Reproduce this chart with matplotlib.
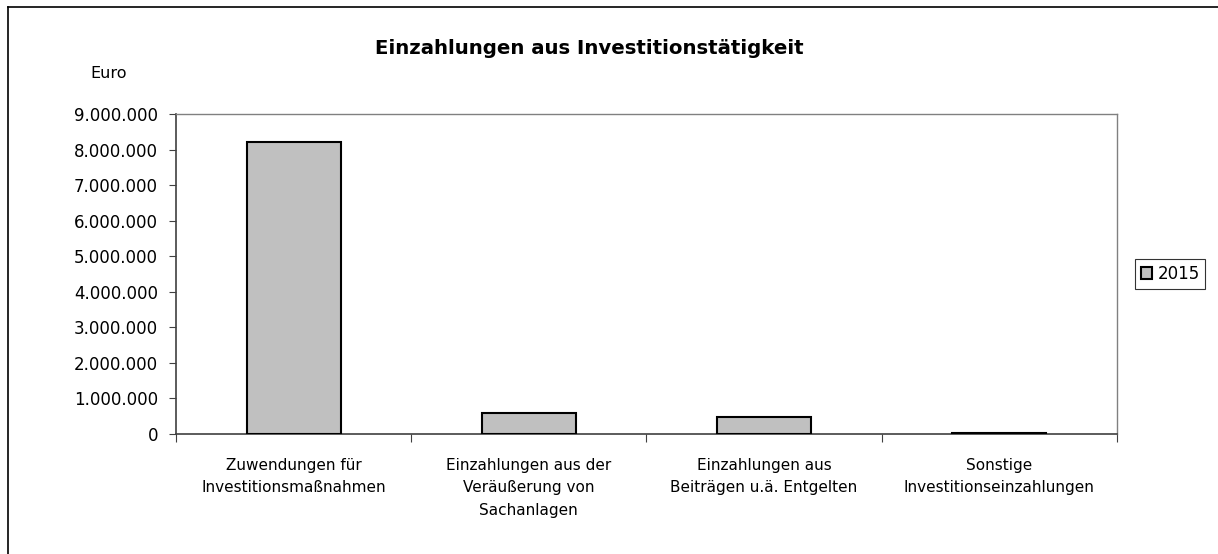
import matplotlib
matplotlib.use("Agg")
import matplotlib.pyplot as plt
from matplotlib.ticker import FuncFormatter, FixedLocator
from matplotlib.lines import Line2D

plt.rcParams['font.family'] = ['DejaVu Sans']

categories = ['Zuwendungen für\nInvestitionsmaßnahmen',
              'Einzahlungen aus der\nVeräußerung von\nSachanlagen',
              'Einzahlungen aus\nBeiträgen u.ä. Entgelten',
              'Sonstige\nInvestitionseinzahlungen']
values_2015 = [8200000, 580000, 480000, 30000]
series_label = '2015'

fig = plt.figure(figsize=(12.18, 5.54), dpi=100)
ax = fig.add_axes([0.1445, 0.2166, 0.917 - 0.1445, 0.7942 - 0.2166])

x = list(range(len(categories)))
ax.bar(x, values_2015, width=0.4, color='#c0c0c0', edgecolor='black',
       linewidth=1.5, label=series_label, zorder=3)

ax.set_xlim(-0.5, len(categories) - 0.5)
ax.set_ylim(0, 9000000)
ax.set_yticks(range(0, 9000001, 1000000))
ax.yaxis.set_major_formatter(FuncFormatter(lambda v, p: f'{int(v):,}'.replace(',', '.')))

# tick marks on category boundaries, labels in the middle
ax.xaxis.set_major_locator(FixedLocator([i - 0.5 for i in range(len(categories) + 1)]))
ax.xaxis.set_major_formatter(FuncFormatter(lambda v, p: ''))
ax.xaxis.set_minor_locator(FixedLocator(x))
ax.set_xticklabels(categories, minor=True)
ax.tick_params(axis='x', which='minor', length=0, pad=17, labelsize=11)
ax.tick_params(axis='x', which='major', length=6, color='#404040', direction='out')
ax.tick_params(axis='y', length=5, color='#404040', labelsize=12, pad=8)
for lbl in ax.get_xticklabels(minor=True):
    lbl.set_linespacing(1.65)

for side in ['left', 'bottom']:
    ax.spines[side].set_color('#404040')
    ax.spines[side].set_linewidth(1.2)
for side in ['top', 'right']:
    ax.spines[side].set_color('#808080')
    ax.spines[side].set_linewidth(1.0)

fig.text(0.484, 0.913, 'Einzahlungen aus Investitionstätigkeit', ha='center', va='center',
         fontsize=14.2, fontweight='bold')
fig.text(0.089, 0.868, 'Euro', ha='center', va='center', fontsize=11.5)

leg = ax.legend(loc='center left', bbox_to_anchor=(1.019, 0.5), frameon=True,
                fancybox=False, edgecolor='black', fontsize=12,
                handlelength=0.7, handleheight=0.7, handletextpad=0.3,
                borderpad=0.35, borderaxespad=0)
leg.get_frame().set_linewidth(0.8)

# outer chart border (only left and top edges visible in the crop)
fig.add_artist(Line2D([0.0066, 0.0066], [0.0, 0.987], transform=fig.transFigure,
                      color='black', linewidth=1.2))
fig.add_artist(Line2D([0.0066, 1.0], [0.987, 0.987], transform=fig.transFigure,
                      color='black', linewidth=1.2))

fig.savefig('out.png', dpi=100)
